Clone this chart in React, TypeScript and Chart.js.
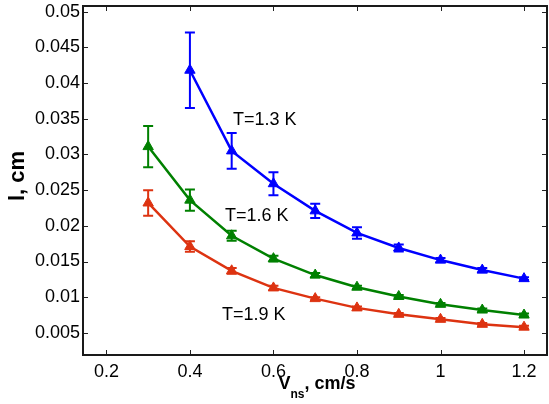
import React, { useEffect, useRef } from "react";
import { Chart, registerables } from "chart.js";

Chart.register(...registerables);

const xValues13 = [0.4, 0.5, 0.6, 0.7, 0.8, 0.9, 1.0, 1.1, 1.2];
const yValues13 = [0.0418, 0.0305, 0.0259, 0.0221, 0.0190, 0.0169, 0.0152, 0.0138, 0.0126];
const err13 = [0.0053, 0.0025, 0.0016, 0.0010, 0.0008, 0.0005, 0.0003, 0.0003, 0.0002];

const xValues16 = [0.3, 0.4, 0.5, 0.6, 0.7, 0.8, 0.9, 1.0, 1.1, 1.2];
const yValues16 = [0.0311, 0.0236, 0.0186, 0.0154, 0.0131, 0.0114, 0.0101, 0.0090, 0.0082, 0.0075];
const err16 = [0.0029, 0.0015, 0.0007, 0.0004, 0.0003, 0.0002, 0.0002, 0.0002, 0.0002, 0.0002];

const xValues19 = [0.3, 0.4, 0.5, 0.6, 0.7, 0.8, 0.9, 1.0, 1.1, 1.2];
const yValues19 = [0.0232, 0.0171, 0.0137, 0.0113, 0.0098, 0.0085, 0.0076, 0.0069, 0.0062, 0.0058];
const err19 = [0.0018, 0.00075, 0.0004, 0.0003, 0.0002, 0.0002, 0.0002, 0.0002, 0.0002, 0.0002];

const xTicks = [0.2, 0.4, 0.6, 0.8, 1.0, 1.2];
const yTicks = [0.005, 0.01, 0.015, 0.02, 0.025, 0.03, 0.035, 0.04, 0.045, 0.05];

const seriesLabels = ["T=1.3 K", "T=1.6 K", "T=1.9 K"];
const labelX = [0.503, 0.484, 0.477];
const labelY = [0.0348, 0.0214, 0.0075];

const colors = ["#0000ff", "#008000", "#dd3311"];
const FONT = "'Liberation Sans', Arial, sans-serif";

const X_MIN = 0.144;
const X_MAX = 1.255;
const Y_MIN = 0.0019;
const Y_MAX = 0.0508;

function toPoints(xs: number[], ys: number[]) {
  return xs.map((x, i) => ({ x, y: ys[i] }));
}

const errorsBySeries = [err13, err16, err19];

const overlayPlugin = {
  id: "overlay",
  afterDatasetsDraw(chart: any) {
    const ctx = chart.ctx;
    const xs = chart.scales.x;
    const ys = chart.scales.y;
    ctx.save();
    chart.data.datasets.forEach((ds: any, di: number) => {
      const errs = errorsBySeries[di];
      ctx.strokeStyle = ds.borderColor;
      ctx.lineWidth = 2;
      ds.data.forEach((p: any, i: number) => {
        const e = errs[i];
        const px = xs.getPixelForValue(p.x);
        const top = ys.getPixelForValue(p.y + e);
        const bot = ys.getPixelForValue(p.y - e);
        ctx.beginPath();
        ctx.moveTo(px, top);
        ctx.lineTo(px, bot);
        ctx.moveTo(px - 5, top);
        ctx.lineTo(px + 5, top);
        ctx.moveTo(px - 5, bot);
        ctx.lineTo(px + 5, bot);
        ctx.stroke();
      });
    });
    ctx.fillStyle = "#000";
    ctx.font = `18px ${FONT}`;
    ctx.textAlign = "left";
    ctx.textBaseline = "middle";
    seriesLabels.forEach((t, i) => {
      ctx.fillText(t, xs.getPixelForValue(labelX[i]), ys.getPixelForValue(labelY[i]));
    });
    ctx.restore();
  },
  afterDraw(chart: any) {
    const ctx = chart.ctx;
    const a = chart.chartArea;
    const xs = chart.scales.x;
    const ys = chart.scales.y;
    ctx.save();
    ctx.strokeStyle = "#222";
    ctx.lineWidth = 1;
    ctx.beginPath();
    xTicks.forEach((v) => {
      const px = Math.round(xs.getPixelForValue(v)) + 0.5;
      ctx.moveTo(px, a.bottom);
      ctx.lineTo(px, a.bottom - 5);
      ctx.moveTo(px, a.top);
      ctx.lineTo(px, a.top + 5);
    });
    yTicks.forEach((v) => {
      const py = Math.round(ys.getPixelForValue(v)) + 0.5;
      ctx.moveTo(a.left, py);
      ctx.lineTo(a.left + 5, py);
      ctx.moveTo(a.right, py);
      ctx.lineTo(a.right - 5, py);
    });
    ctx.stroke();
    ctx.lineWidth = 2;
    ctx.strokeStyle = "#1a1a1a";
    ctx.strokeRect(a.left, a.top, a.right - a.left, a.bottom - a.top);
    ctx.fillStyle = "#000";
    ctx.save();
    ctx.translate(24, 176);
    ctx.rotate(-Math.PI / 2);
    ctx.font = `bold 22px ${FONT}`;
    ctx.textAlign = "center";
    ctx.textBaseline = "alphabetic";
    ctx.fillText("l, cm", 0, 0);
    ctx.restore();
    const big = `bold 18px ${FONT}`;
    const small = `bold 12px ${FONT}`;
    ctx.font = big;
    const wV = ctx.measureText("V").width;
    const wRest = ctx.measureText(", cm/s").width;
    ctx.font = small;
    const wSub = ctx.measureText("ns").width;
    const total = wV + wSub + wRest;
    const cx = 317;
    let x0 = cx - total / 2;
    const base = 389;
    ctx.textAlign = "left";
    ctx.textBaseline = "alphabetic";
    ctx.font = big;
    ctx.fillText("V", x0, base);
    x0 += wV;
    ctx.font = small;
    ctx.fillText("ns", x0, base + 9);
    x0 += wSub;
    ctx.font = big;
    ctx.fillText(", cm/s", x0, base);
    ctx.restore();
  },
};

export default function App() {
  const ref = useRef<HTMLCanvasElement | null>(null);
  useEffect(() => {
    document.body.style.margin = "0";
    const canvas = ref.current;
    if (!canvas) return;
    const datasets = [
      { data: toPoints(xValues13, yValues13) },
      { data: toPoints(xValues16, yValues16) },
      { data: toPoints(xValues19, yValues19) },
    ].map((d, i) => ({
      ...d,
      borderColor: colors[i],
      backgroundColor: colors[i],
      borderWidth: 2.5,
      pointStyle: "triangle",
      pointRadius: 6,
      pointBorderWidth: 1,
      showLine: true,
      tension: 0,
    }));
    const chart = new Chart(canvas, {
      type: "scatter",
      data: { datasets },
      options: {
        responsive: false,
        animation: false,
        devicePixelRatio: 1,
        layout: { autoPadding: false, padding: { top: 6, right: 2, left: 0, bottom: 0 } },
        plugins: { legend: { display: false }, tooltip: { enabled: false } },
        scales: {
          x: {
            type: "linear",
            min: X_MIN,
            max: X_MAX,
            afterBuildTicks: (s: any) => {
              s.ticks = xTicks.map((v) => ({ value: v }));
            },
            afterFit: (s: any) => {
              s.height = 49;
              s.paddingLeft = 0;
              s.paddingRight = 0;
              s.paddingTop = 0;
              s.paddingBottom = 0;
            },
            grid: { display: false, drawTicks: false },
            border: { display: false },
            ticks: {
              padding: 6,
              color: "#000",
              font: { family: FONT, size: 18 },
              callback: (v: any) => String(+Number(v).toFixed(2)),
            },
          },
          y: {
            type: "linear",
            min: Y_MIN,
            max: Y_MAX,
            afterBuildTicks: (s: any) => {
              s.ticks = yTicks.map((v) => ({ value: v }));
            },
            afterFit: (s: any) => {
              s.width = 83;
              s.paddingLeft = 0;
              s.paddingRight = 0;
              s.paddingTop = 0;
              s.paddingBottom = 0;
            },
            grid: { display: false, drawTicks: false },
            border: { display: false },
            ticks: {
              padding: 3,
              color: "#000",
              font: { family: FONT, size: 18 },
              callback: (v: any) => String(+Number(v).toFixed(3)),
            },
          },
        },
      },
      plugins: [overlayPlugin],
    } as any);
    return () => chart.destroy();
  }, []);
  return <canvas ref={ref} width={549} height={404} style={{ display: "block" }} />;
}
